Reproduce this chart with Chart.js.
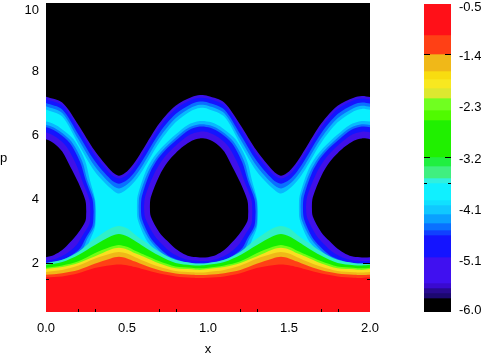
<!DOCTYPE html>
<html>
<head>
<meta charset="utf-8">
<script src="https://cdn.jsdelivr.net/npm/chart.js@4"></script>
<style>
  body { margin: 0; background: #fff; }
  #wrap { position: relative; width: 481px; height: 355px; overflow: hidden; }
  canvas { position: absolute; top: 0; }
  #plabel { position: absolute; left: 0; top: 150px; font: 13px "Liberation Sans", sans-serif; color: #000; }
</style>
</head>
<body>
<div id="wrap">
  <canvas id="main" width="481" height="355" style="left:0"></canvas>
  <canvas id="bar" width="57" height="355" style="left:424px"></canvas>
  <span id="plabel">p</span>
</div>
<script>
const xTicks = [0, 0.5, 1, 1.5, 2];
const yTicks = [2, 4, 6, 8, 10];
const xMarks = [0.2, 0.3, 0.7, 0.8, 1.2, 1.3, 1.7, 1.8];
const yMarksLong = [2];
const yMarksShort = [1.5];

// upper edge of the bands, purple down to cyan
const gridX = [0, .1, .2, .3, .4, .45, .5, .55, .6, .7, .8, .9, .95, 1, 1.1, 1.2, 1.3, 1.4, 1.45, 1.5, 1.55, 1.6, 1.7, 1.8, 1.9, 1.95, 2];
const top1 = [7.18, 7.0, 6.3, 5.5, 4.88, 4.72, 4.85, 5.15, 5.55, 6.35, 6.9, 7.17, 7.23, 7.2, 7.0, 6.3, 5.5, 4.88, 4.72, 4.85, 5.15, 5.55, 6.35, 6.9, 7.15, 7.2, 7.17];
const top2 = [7.10, 6.91, 6.18, 5.37, 4.77, 4.63, 4.74, 5.03, 5.42, 6.23, 6.8, 7.09, 7.15, 7.12, 6.91, 6.18, 5.37, 4.77, 4.63, 4.74, 5.03, 5.42, 6.23, 6.8, 7.07, 7.12, 7.09];
const top3 = [6.98, 6.78, 6.0, 5.18, 4.6, 4.47, 4.58, 4.85, 5.23, 6.05, 6.64, 6.96, 7.03, 7.0, 6.78, 6.0, 5.18, 4.6, 4.47, 4.58, 4.85, 5.23, 6.05, 6.64, 6.94, 7.0, 6.97];
const top4 = [6.88, 6.67, 5.85, 5.02, 4.46, 4.32, 4.44, 4.7, 5.07, 5.9, 6.51, 6.85, 6.93, 6.9, 6.67, 5.85, 5.02, 4.46, 4.32, 4.44, 4.7, 5.07, 5.9, 6.51, 6.83, 6.9, 6.87];
const top5 = [6.78, 6.56, 5.7, 4.86, 4.32, 4.16, 4.3, 4.55, 4.91, 5.75, 6.38, 6.75, 6.83, 6.8, 6.56, 5.7, 4.86, 4.32, 4.16, 4.3, 4.55, 4.91, 5.75, 6.38, 6.73, 6.8, 6.77];
const topColors = ["#3a10e8", "#1414ff", "#0a70ff", "#08b8ff", "#08f0ff"];

// the eye, outermost contour first. it repeats every 1.0 in x
const eyeShifts = [-1, 0, 1];
const eye4X = [.56, .566, .615, .665, .725, .80, .875, .95, 1.02, 1.09, 1.17, 1.24, 1.27, 1.302, 1.31];
const eye4Top = [3.75, 4.1, 4.85, 5.3, 5.65, 6.0, 6.3, 6.42, 6.38, 6.2, 5.85, 5.2, 4.6, 4.0, 3.6];
const eye4Bot = [3.75, 3.35, 2.75, 2.43, 2.16, 2.0, 1.91, 1.89, 1.9, 1.97, 2.12, 2.37, 2.7, 3.1, 3.6];
const eye3X = [.57, .577, .63, .68, .739, .809, .88, .95, 1.016, 1.083, 1.157, 1.224, 1.255, 1.298, 1.305];
const eye3Top = [3.75, 4.09, 4.83, 5.27, 5.61, 5.94, 6.21, 6.32, 6.28, 6.11, 5.78, 5.16, 4.58, 3.99, 3.6];
const eye3Bot = [3.75, 3.37, 2.79, 2.48, 2.21, 2.05, 1.96, 1.94, 1.95, 2.02, 2.17, 2.42, 2.75, 3.14, 3.6];
const eye2X = [.585, .592, .642, .692, .749, .816, .883, .95, 1.014, 1.077, 1.148, 1.211, 1.245, 1.287, 1.295];
const eye2Top = [3.75, 4.08, 4.81, 5.25, 5.58, 5.88, 6.14, 6.25, 6.21, 6.05, 5.73, 5.14, 4.57, 3.98, 3.6];
const eye2Bot = [3.75, 3.38, 2.81, 2.51, 2.25, 2.09, 2.0, 1.98, 1.99, 2.06, 2.21, 2.46, 2.78, 3.16, 3.6];
const eye1X = [.605, .612, .667, .717, .771, .83, .89, .95, 1.008, 1.066, 1.127, 1.185, 1.225, 1.268, 1.275];
const eye1Top = [3.75, 4.07, 4.77, 5.2, 5.51, 5.78, 6.0, 6.09, 6.06, 5.91, 5.62, 5.08, 4.54, 3.97, 3.6];
const eye1Bot = [3.75, 3.41, 2.87, 2.58, 2.33, 2.17, 2.08, 2.06, 2.07, 2.14, 2.29, 2.54, 2.85, 3.22, 3.6];
const eye0X = [.64, .647, .70, .75, .80, .85, .90, .95, 1.0, 1.05, 1.10, 1.15, 1.20, 1.243, 1.25];
const eye0Top = [3.75, 4.05, 4.72, 5.14, 5.42, 5.64, 5.81, 5.88, 5.85, 5.72, 5.47, 5.0, 4.5, 3.95, 3.6];
const eye0Bot = [3.75, 3.45, 2.95, 2.68, 2.44, 2.28, 2.19, 2.17, 2.18, 2.25, 2.4, 2.65, 2.95, 3.3, 3.6];
const eyeColors = ["#08b8ff", "#0a70ff", "#1414ff", "#4010e8", "#000000"];

// bottom hills, teal down to red
const hillTeal = [2.0, 2.1, 2.35, 2.75, 3.08, 3.15, 3.08, 2.88, 2.7, 2.35, 2.1, 2.0, 1.98, 2.0, 2.1, 2.35, 2.75, 3.08, 3.15, 3.08, 2.88, 2.7, 2.35, 2.1, 2.0, 1.98, 2.0];
const hillGreen = [1.94, 2.03, 2.25, 2.55, 2.83, 2.9, 2.83, 2.68, 2.52, 2.22, 2.0, 1.93, 1.92, 1.94, 2.03, 2.25, 2.55, 2.83, 2.9, 2.83, 2.68, 2.52, 2.22, 2.0, 1.93, 1.92, 1.94];
const hillLime = [1.85, 1.92, 2.05, 2.3, 2.5, 2.56, 2.5, 2.38, 2.27, 2.05, 1.89, 1.85, 1.83, 1.85, 1.92, 2.05, 2.3, 2.5, 2.56, 2.5, 2.38, 2.27, 2.05, 1.89, 1.85, 1.83, 1.85];
const hillYellow = [1.81, 1.87, 2.0, 2.2, 2.42, 2.47, 2.42, 2.3, 2.2, 1.98, 1.83, 1.8, 1.78, 1.81, 1.87, 2.0, 2.2, 2.42, 2.47, 2.42, 2.3, 2.2, 1.98, 1.83, 1.8, 1.78, 1.81];
const hillGold = [1.72, 1.78, 1.92, 2.13, 2.29, 2.34, 2.29, 2.18, 2.07, 1.88, 1.75, 1.71, 1.7, 1.72, 1.78, 1.92, 2.13, 2.29, 2.34, 2.29, 2.18, 2.07, 1.88, 1.75, 1.71, 1.7, 1.72];
const hillOrange = [1.63, 1.68, 1.78, 1.97, 2.14, 2.19, 2.14, 2.04, 1.94, 1.77, 1.67, 1.63, 1.62, 1.63, 1.68, 1.78, 1.97, 2.14, 2.19, 2.14, 2.04, 1.94, 1.77, 1.67, 1.63, 1.62, 1.63];
const hillRed = [1.55, 1.58, 1.68, 1.84, 1.93, 1.95, 1.93, 1.87, 1.8, 1.67, 1.58, 1.54, 1.53, 1.54, 1.58, 1.68, 1.84, 1.93, 1.95, 1.93, 1.87, 1.8, 1.67, 1.58, 1.54, 1.53, 1.55];
const hillColors = ["#30f0c8", "#14ee00", "#70ff14", "#f8e020", "#f0b818", "#ff4015", "#ff1018"];

// colour bar
const barEdges = [-0.5, -1.054, -1.393, -1.696, -1.839, -2.0, -2.179, -2.393, -2.571, -3.232, -3.393, -3.607, -3.696, -4.0, -4.089, -4.25, -4.411, -4.536, -4.625, -5.018, -5.482, -5.571, -5.66, -5.75, -6.0];
const barColors = ["#ff1018", "#ff4015", "#f0b818", "#f8dc10", "#f8e820", "#dce830", "#70ff20", "#50fa00", "#20f000", "#20ef40", "#40ef80", "#30f0e0", "#10f0ff", "#10e0ff", "#10c8ff", "#0aa0ff", "#0a70ff", "#1040ff", "#1414ff", "#4010f0", "#3a0ad0", "#280a90", "#1c0870", "#000000"];
const barTicks = [-0.5, -1.4167, -2.3333, -3.25, -4.1667, -5.0833, -6];
const barLabels = ["-0.5", "-1.4", "-2.3", "-3.2", "-4.1", "-5.1", "-6.0"];
const barMarksLong = [-1.393, -3.232];
const barMarksShort = [-3.696];

const FONT = { family: "Liberation Sans", size: 13 };

function pts(xs, ys, shift) {
  return xs.map((x, i) => ({ x: x + shift, y: ys[i] }));
}

function band(xs, ys, shift, color, fill) {
  return {
    data: pts(xs, ys, shift),
    backgroundColor: color,
    borderWidth: 0,
    pointRadius: 0,
    showLine: true,
    tension: 0.3,
    capBezierPoints: false,
    fill: fill,
  };
}

// painted back to front, so each list goes over the one before
const layers = [];
[top1, top2, top3, top4, top5].forEach((ys, i) => {
  layers.push(band(gridX, ys, 0, topColors[i], "start"));
});
[[eye4X, eye4Top, eye4Bot], [eye3X, eye3Top, eye3Bot], [eye2X, eye2Top, eye2Bot], [eye1X, eye1Top, eye1Bot], [eye0X, eye0Top, eye0Bot]].forEach((eye, i) => {
  eyeShifts.forEach((shift) => {
    layers.push(band(eye[0], eye[1], shift, eyeColors[i], "+1"));
    layers.push(band(eye[0], eye[2], shift, eyeColors[i], false));
  });
});
[hillTeal, hillGreen, hillLime, hillYellow, hillGold, hillOrange, hillRed].forEach((ys, i) => {
  layers.push(band(gridX, ys, 0, hillColors[i], "start"));
});
layers.forEach((d, i) => { d.order = -i; });

// text sits 1px low here, and the end labels stay just inside the frame
function nudgeLabels(scale, firstIdx, firstBy, lastIdx, lastBy) {
  scale.getLabelItems().forEach((item, i) => {
    let by = 1;
    if (i === firstIdx) by = firstBy;
    if (i === lastIdx) by = lastBy;
    item.options.translation[1] += by;
  });
}

function noPadding(s) {
  s.paddingTop = 0;
  s.paddingBottom = 0;
  s.paddingLeft = 0;
  s.paddingRight = 0;
}

function tickLine(ctx, x1, y1, x2, y2) {
  ctx.beginPath();
  ctx.moveTo(x1, y1);
  ctx.lineTo(x2, y2);
  ctx.stroke();
}

const mainPlugin = {
  id: "mainPlugin",
  beforeDraw(chart) {
    const a = chart.chartArea;
    chart.ctx.fillStyle = "#000";
    chart.ctx.fillRect(a.left, a.top, a.width, a.height);
  },
  afterUpdate(chart) {
    nudgeLabels(chart.scales.y, 0, 1, 4, 4);
  },
  afterDatasetsDraw(chart) {
    const ctx = chart.ctx;
    const a = chart.chartArea;
    ctx.save();
    ctx.strokeStyle = "#000";
    ctx.lineWidth = 1;
    xMarks.forEach((v) => {
      const x = Math.round(chart.scales.x.getPixelForValue(v)) + 0.5;
      tickLine(ctx, x, a.bottom, x, a.bottom - 3);
    });
    [[yMarksLong, 7], [yMarksShort, 3]].forEach(([list, len]) => {
      list.forEach((v) => {
        const y = Math.round(chart.scales.y.getPixelForValue(v)) + 0.5;
        tickLine(ctx, a.left, y, a.left + len, y);
        tickLine(ctx, a.right, y, a.right - len, y);
      });
    });
    ctx.restore();
  },
};

new Chart(document.getElementById("main"), {
  type: "scatter",
  data: { datasets: layers },
  plugins: [mainPlugin],
  options: {
    responsive: false,
    animation: false,
    layout: { padding: { left: 0, right: 111, top: 3, bottom: 0 } },
    plugins: { legend: { display: false }, tooltip: { enabled: false } },
    scales: {
      x: {
        type: "linear",
        min: 0,
        max: 2,
        grid: { display: false, drawTicks: false },
        border: { display: false },
        afterBuildTicks: (s) => { s.ticks = xTicks.map((v) => ({ value: v })); },
        afterFit: (s) => { s.height = 43; noPadding(s); },
        ticks: { font: FONT, color: "#000", padding: 9, maxRotation: 0, callback: (v) => v.toFixed(1) },
        title: { display: true, text: "x", font: FONT, color: "#000", padding: { top: 0, bottom: -2 } },
      },
      y: {
        type: "linear",
        min: 0.47,
        max: 10.1,
        grid: { display: false, drawTicks: false },
        border: { display: false },
        afterBuildTicks: (s) => { s.ticks = yTicks.map((v) => ({ value: v })); },
        afterFit: (s) => { s.width = 46; noPadding(s); },
        ticks: { font: FONT, color: "#000", padding: 7, callback: (v) => String(v) },
      },
    },
  },
});

const barPlugin = {
  id: "barPlugin",
  afterUpdate(chart) {
    nudgeLabels(chart.scales.y, 0, 3, 6, -2);
  },
  afterDatasetsDraw(chart) {
    const ctx = chart.ctx;
    const a = chart.chartArea;
    ctx.save();
    ctx.strokeStyle = "#000";
    ctx.lineWidth = 1;
    [[barMarksLong, 6], [barMarksShort, 3]].forEach(([list, len]) => {
      list.forEach((v) => {
        const y = Math.round(chart.scales.y.getPixelForValue(v)) + 0.5;
        tickLine(ctx, a.left, y, a.left + len, y);
        tickLine(ctx, a.right, y, a.right - len, y);
      });
    });
    ctx.restore();
  },
};

new Chart(document.getElementById("bar"), {
  type: "bar",
  data: {
    labels: ["level"],
    datasets: barColors.map((c, i) => ({
      data: [[barEdges[i + 1], barEdges[i]]],
      backgroundColor: c,
      borderWidth: 0,
      barPercentage: 1,
      categoryPercentage: 1,
      grouped: false,
    })),
  },
  plugins: [barPlugin],
  options: {
    responsive: false,
    animation: false,
    layout: { padding: { left: 0, right: 0, top: 4, bottom: 43 } },
    plugins: { legend: { display: false }, tooltip: { enabled: false } },
    scales: {
      x: { display: false },
      y: {
        position: "right",
        min: -6,
        max: -0.5,
        grid: { display: false, drawTicks: false },
        border: { display: false },
        afterBuildTicks: (s) => { s.ticks = barTicks.map((v) => ({ value: v })); },
        afterFit: (s) => { s.width = 30; noPadding(s); },
        ticks: {
          font: FONT,
          color: "#000",
          padding: 8,
          callback: (v, i) => barLabels[i],
        },
      },
    },
  },
});
</script>
</body>
</html>
